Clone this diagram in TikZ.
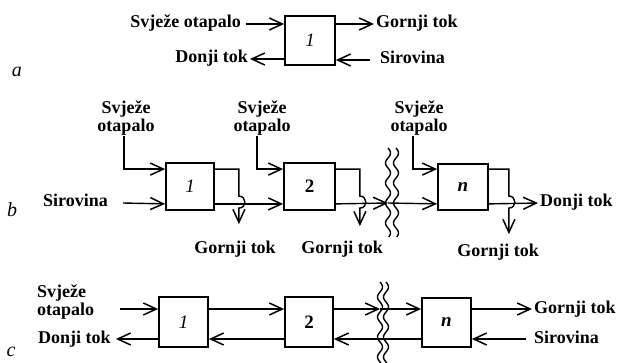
\documentclass[tikz,border=0pt]{standalone}
\usepackage{fontspec}
\setmainfont{Liberation Serif}
\usetikzlibrary{arrows.meta}
\begin{document}
\begin{tikzpicture}[x=1pt,y=-1pt,
  lbl/.style={font=\fontsize{18}{18}\selectfont\bfseries, inner sep=2pt, text height=12pt, text depth=4pt},
  lbltwo/.style={font=\fontsize{18}{18}\selectfont\bfseries, inner sep=1pt, align=center},
  part/.style={font=\fontsize{20}{20}\selectfont\itshape, inner sep=0pt},
  box/.style={draw, line width=1.8pt, inner sep=0pt, font=\fontsize{19}{19}\selectfont},
  conn/.style={line width=1.4pt},
  flow/.style={conn, -{Straight Barb[length=13pt,width=12pt,line width=1.5pt]}},
  wave/.style={line width=1.4pt}
]
\useasboundingbox (0,0) rectangle (618,363);

% ---------- part a ----------
\node[part] (pa) at (17,72) {a};
\node[box, minimum width=50pt, minimum height=49pt] (A) at (310,40.5) {\textit{1}};
\node[lbl, anchor=east] (sa) at (243,24) {Svježe otapalo};
\node[lbl, anchor=east] (da) at (250,59) {Donji tok};
\node[lbl, anchor=west] (ga) at (374,24) {Gornji tok};
\node[lbl, anchor=west] (ra) at (378,60) {Sirovina};
\draw[flow] ([xshift=3pt]sa.east) -- (A.west |- sa.east);
\draw[flow] (A.west |- da.east) -- (da.east);
\draw[flow] (A.east |- ga.west) -- (ga.west);
\draw[flow] ([xshift=-8pt]ra.west) -- (A.east |- ra.west);

% ---------- part b ----------
\node[part] (pb) at (12,210) {b};
\node[box, minimum width=48pt, minimum height=47pt] (B1) at (190,186.5) {\textit{1}};
\node[box, minimum width=51pt, minimum height=47pt] (B2) at (309.5,186.5) {\textbf{2}};
\node[box, minimum width=50pt, minimum height=46pt] (Bn) at (463,187) {\textbf{\textit{n}}};

\node[lbltwo] (sv1) at (126,118) {Svježe\\otapalo};
\node[lbltwo] (sv2) at (262,118) {Svježe\\otapalo};
\node[lbltwo] (sv3) at (419,118) {Svježe\\otapalo};
\node[lbl, anchor=east] (sb) at (110,203) {Sirovina};
\node[lbl, anchor=west] (db) at (538,203) {Donji tok};
\node[lbl] (g1) at (235,250) {Gornji tok};
\node[lbl] (g2) at (342,250) {Gornji tok};
\node[lbl] (g3) at (498,253) {Gornji tok};

\draw[flow] ([xshift=-2pt]sv1.south) |- ([yshift=-7pt]B1.north west);
\draw[flow] ([xshift=-5pt]sv2.south) |- ([yshift=-7pt]B2.north west);
\draw[flow] ([xshift=-6pt]sv3.south) |- ([yshift=-6pt]Bn.north west);
\draw[flow] ([xshift=13pt]sb.east) -- ([yshift=7pt]B1.south west);
\draw[flow] ([yshift=7pt]B1.south east) -- ([yshift=7pt]B2.south west);
\coordinate (wb) at (388,203);
\draw[flow] ([yshift=7pt]B2.south east) -- (wb);
\draw[flow] (wb) -- ([yshift=7pt]Bn.south west);
\draw[flow] ([yshift=7pt]Bn.south east) -- (db.west);

\draw[flow] ([yshift=-7pt]B1.north east) -- ++(24,0) -- ++(0,27)
   to[out=0,in=0,looseness=1.7] ++(0,12) -- ++(0,16);
\draw[flow] ([yshift=-7pt]B2.north east) -- ++(24,0) -- ++(0,27)
   to[out=0,in=0,looseness=1.7] ++(0,12) -- ++(0,18);
\draw[flow] ([yshift=-6pt]Bn.north east) -- ++(20,0) -- ++(0,27)
   to[out=0,in=0,looseness=1.7] ++(0,12) -- ++(0,26);

\draw[wave] plot[domain=148:237, samples=90, smooth] ({388+2.5*sin((\x-148)*18)},\x);
\draw[wave] plot[domain=148:237, samples=90, smooth] ({396+2.5*sin((\x-148)*18)},\x);

% ---------- part c ----------
\node[part] (pc) at (11,352) {c};
\node[box, minimum width=49pt, minimum height=50pt] (C1) at (183.5,322) {\textit{1}};
\node[box, minimum width=48pt, minimum height=50pt] (C2) at (309,322) {\textbf{2}};
\node[box, minimum width=49pt, minimum height=49pt] (Cn) at (446.5,322.5) {\textbf{\textit{n}}};

\node[lbltwo, anchor=west, align=left] (sc) at (36,302) {Svježe\\otapalo};
\node[lbl, anchor=west] (dc) at (36,339) {Donji tok};
\node[lbl, anchor=west] (gc) at (532,309) {Gornji tok};
\node[lbl, anchor=west] (rc) at (532,339) {Sirovina};

\coordinate (cin) at (120,309);
\draw[flow] (cin) -- (C1.west |- cin);
\draw[flow] (C1.west |- dc.east) -- ([xshift=3pt]dc.east);
\draw[flow] (C1.east |- cin) -- (C2.west |- cin);
\draw[flow] (C2.west |- dc.east) -- (C1.east |- dc.east);
\coordinate (wc) at (380,309);
\draw[flow] (C2.east |- cin) -- (wc);
\draw[flow] (wc) -- (Cn.west |- cin);
\draw[flow] (Cn.west |- dc.east) -- (C2.east |- dc.east);
\draw[flow] (Cn.east |- gc.west) -- (gc.west);
\draw[flow] ([xshift=-6pt]rc.west) -- (Cn.east |- rc.west);

\draw[wave] plot[domain=282:363, samples=90, smooth] ({380+2.5*sin((\x-282)*18)},\x);
\draw[wave] plot[domain=282:363, samples=90, smooth] ({386+2.5*sin((\x-282)*18)},\x);
\end{tikzpicture}
\end{document}
